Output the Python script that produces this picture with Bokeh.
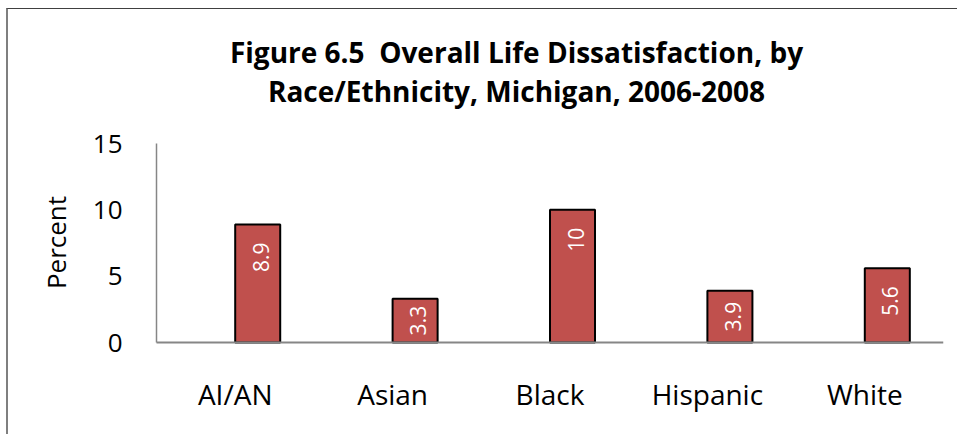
from math import pi
from bokeh.plotting import figure
from bokeh.models import Range1d, FixedTicker, Label, ColumnDataSource
from bokeh.core.properties import value
from bokeh.embed import file_html
from bokeh.resources import INLINE

# ---- data ----
categories = ["AI/AN", "Asian", "Black", "Hispanic", "White"]
percent = [8.9, 3.3, 10, 3.9, 5.6]
percent_labels = ["8.9", "3.3", "10", "3.9", "5.6"]
y_ticks = [0, 5, 10, 15]
y_axis_max = 15
title_lines = ["Figure 6.5\u00a0 Overall Life Dissatisfaction, by",
               "Race/Ethnicity, Michigan, 2006-2008"]
y_label = "Percent"

FONT = "Open Sans"
BAR_COLOR = "#C0504D"
AXIS_COLOR = "#868686"

# ---- layout (pixels) ----
W, H = 951, 426
MB_LEFT, MB_RIGHT, MB_TOP, MB_BOTTOM = 2, 16, 5, 2
FRAME_W = W - MB_LEFT - MB_RIGHT
FRAME_H = H - MB_TOP - MB_BOTTOM
ZERO_PX = 328        # distance from frame top to the zero line
AXIS_PX_Y = 199      # pixel height of the 0..15 value axis
AXIS_PX_X = 787      # pixel width of the category axis
n = len(categories)
px_per_unit = AXIS_PX_Y / y_axis_max
y_end = ZERO_PX / px_per_unit
y_start = -(FRAME_H - ZERO_PX) / px_per_unit
x_start = n - n * FRAME_W / AXIS_PX_X
below = FRAME_H - ZERO_PX   # px from frame bottom up to the zero line

xpos = [i + 0.5 for i in range(n)]      # category centres
bar_x = [x + 0.143 for x in xpos]       # bars sit right of centre (clustered look)

p = figure(width=W, height=H, output_backend="svg", toolbar_location=None,
           x_range=Range1d(x_start, n), y_range=Range1d(y_start, y_end),
           min_border_left=MB_LEFT, min_border_right=MB_RIGHT,
           min_border_top=MB_TOP, min_border_bottom=MB_BOTTOM,
           background_fill_color="white", border_fill_color="white")
p.outline_line_color = None
p.grid.visible = False
p.styles = {"border-left": "2px solid #7f7f7f", "border-top": "1px solid #404040",
            "margin-left": "6px", "margin-top": "8px"}

src = ColumnDataSource(dict(x=bar_x, val=percent, lbl=percent_labels))
p.vbar(x="x", top="val", width=0.286, source=src,
       fill_color=BAR_COLOR, line_color="black", line_width=2)

# value labels: tall bars near inside end, short bars centred
tall = [i for i, v in enumerate(percent) if v >= 5]
short = [i for i, v in enumerate(percent) if v < 5]
src_tall = ColumnDataSource(dict(x=[bar_x[i] for i in tall],
                                 val=[percent[i] for i in tall],
                                 lbl=[percent_labels[i] for i in tall]))
src_short = ColumnDataSource(dict(x=[bar_x[i] for i in short],
                                  val=[percent[i] / 2 for i in short],
                                  lbl=[percent_labels[i] for i in short]))
common = dict(angle=pi / 2, text_color="white", text_font=value(FONT),
              text_font_size="21px", text_baseline="middle", x_offset=3)
p.text(x="x", y="val", text="lbl", source=src_tall,
       text_align="right", y_offset=18, **common)
p.text(x="x", y="val", text="lbl", source=src_short,
       text_align="center", **common)

# ---- axes ----
xa = p.xaxis[0]
xa.fixed_location = 0
xa.ticker = FixedTicker(ticks=xpos)
xa.major_label_overrides = {x: c for x, c in zip(xpos, categories)}
xa.bounds = (0, n)
xa.axis_line_color = AXIS_COLOR
xa.axis_line_width = 2
xa.major_tick_line_color = None
xa.minor_tick_line_color = None
xa.major_label_text_font = FONT
xa.major_label_text_font_size = "28px"
xa.major_label_text_color = "black"
xa.major_label_standoff = 26

ya = p.yaxis[0]
ya.fixed_location = 0
ya.ticker = FixedTicker(ticks=y_ticks)
ya.bounds = (0, y_axis_max)
ya.axis_line_color = AXIS_COLOR
ya.axis_line_width = 1.5
ya.major_tick_line_color = None
ya.minor_tick_line_color = None
ya.major_label_text_font = FONT
ya.major_label_text_font_size = "26px"
ya.major_label_text_color = "black"
ya.major_label_standoff = 28

# axis title "Percent" (screen px relative to plot frame bottom-left)
p.add_layout(Label(x=45, y=below + 100, x_units="screen", y_units="screen",
                   text=y_label, angle=pi / 2, text_align="center",
                   text_baseline="alphabetic", text_font=FONT,
                   text_font_size="26px", text_color="black"))

# chart title (two centred lines)
for line, yy in zip(title_lines, [291, 252]):
    p.add_layout(Label(x=506, y=below + yy, x_units="screen", y_units="screen",
                       text=line, text_align="center", text_baseline="alphabetic",
                       text_font=FONT, text_font_size="28px",
                       text_font_style="bold", text_color="black"))

open("out.html", "w").write(file_html(p, INLINE))
